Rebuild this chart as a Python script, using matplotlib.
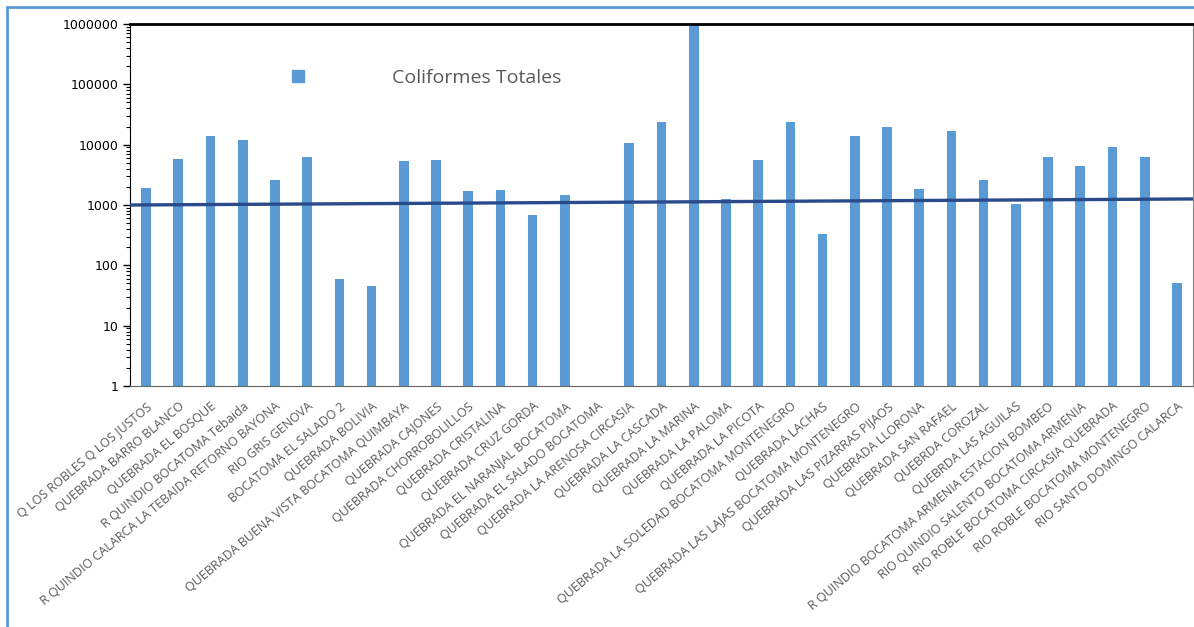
import numpy as np
import matplotlib
matplotlib.use('Agg')
import matplotlib.pyplot as plt
from matplotlib.lines import Line2D
from matplotlib.patches import Rectangle

# nombres de las fuentes muestreadas
estaciones = [
    'Q LOS ROBLES Q LOS JUSTOS',
    'QUEBRADA BARRO BLANCO',
    'QUEBRADA EL BOSQUE',
    'R QUINDIO BOCATOMA Tebaida',
    'R QUINDIO CALARCA LA TEBAIDA RETORNO BAYONA',
    'RIO GRIS GENOVA',
    'BOCATOMA EL SALADO 2',
    'QUEBRADA BOLIVIA',
    'QUEBRADA BUENA VISTA BOCATOMA QUIMBAYA',
    'QUEBRADA CAJONES',
    'QUEBRADA CHORROBOLILLOS',
    'QUEBRADA CRISTALINA',
    'QUEBRADA CRUZ GORDA',
    'QUEBRADA EL NARANJAL BOCATOMA',
    'QUEBRADA EL SALADO BOCATOMA',
    'QUEBRADA LA ARENOSA CIRCASIA',
    'QUEBRADA LA CASCADA',
    'QUEBRADA LA MARINA',
    'QUEBRADA LA PALOMA',
    'QUEBRADA LA PICOTA',
    'QUEBRADA LA SOLEDAD BOCATOMA MONTENEGRO',
    'QUEBRADA LACHAS',
    'QUEBRADA LAS LAJAS BOCATOMA MONTENEGRO',
    'QUEBRADA LAS PIZARRAS PIJAOS',
    'QUEBRADA LLORONA',
    'QUEBRADA SAN RAFAEL',
    'QUEBRDA COROZAL',
    'QUEBRDA LAS AGUILAS',
    'R QUINDIO BOCATOMA ARMENIA ESTACION BOMBEO',
    'RIO QUINDIO SALENTO BOCATOMA ARMENIA',
    'RIO ROBLE BOCATOMA CIRCASIA QUEBRADA',
    'RIO ROBLE BOCATOMA MONTENEGRO',
    'RIO SANTO DOMINGO CALARCA',
]

# coliformes totales (escala log)
coliformes = [1950, 5700, 14000, 12000, 2600, 6300, 60, 46, 5400, 5600,
              1700, 1780, 690, 1490, 0, 10600, 24000, 1000000, 1250, 5500,
              24000, 330, 14000, 20000, 1870, 17000, 2600, 1040, 6300, 4450,
              9200, 6200, 50]

# linea de tendencia (valor al inicio y al final del eje)
tendencia = [1000, 1260]

azul = '#5B9BD5'
gris = '#595959'

fig = plt.figure(figsize=(11.94, 6.27), dpi=100)
ax = fig.add_axes([130/1194, 1 - 386/627, 1063/1194, 362/627])

x = np.arange(len(estaciones))
valores = [v if v > 0 else np.nan for v in coliformes]
ax.bar(x, valores, width=0.3, color=azul, zorder=2)

ax.plot([-0.5, len(estaciones) - 0.5], tendencia, color='#2B4A8B', lw=2.4, zorder=3)

ax.set_yscale('log')
ax.set_ylim(1, 1000000)
ax.set_xlim(-0.5, len(estaciones) - 0.5)
ax.set_yticks([1, 10, 100, 1000, 10000, 100000, 1000000])
ax.set_yticklabels(['1', '10', '100', '1000', '10000', '100000', '1000000'])
ax.tick_params(axis='y', which='major', length=5, width=1, labelsize=9, pad=3)
ax.tick_params(axis='y', which='minor', length=3, width=0.8)

ax.set_xticks(x)
ax.set_xticklabels(estaciones, rotation=40, ha='right', rotation_mode='anchor',
                   fontsize=9, color=gris, family='Open Sans')
ax.tick_params(axis='x', length=0, pad=10)

ax.spines['top'].set_linewidth(2)
ax.spines['top'].set_color('black')
ax.spines['right'].set_color('#888888')
ax.spines['bottom'].set_color('#666666')
ax.spines['left'].set_color('black')

handle = Line2D([], [], marker='s', color=azul, linestyle='None', markersize=9)
leg = ax.legend([handle], ['Coliformes Totales'], loc='center left',
                bbox_to_anchor=(279/1194, 1 - 78/627), bbox_transform=fig.transFigure,
                frameon=False, handlelength=1, handletextpad=4.3, borderpad=0,
                prop={'family': 'Open Sans', 'size': 14})
for t in leg.get_texts():
    t.set_color(gris)

# marco azul exterior
fig.patches.append(Rectangle((7/1194, -0.1), 1.2, 1 - 7/627 + 0.1,
                             transform=fig.transFigure, fill=False,
                             edgecolor=azul, lw=2))

fig.savefig('out.png', dpi=100)
